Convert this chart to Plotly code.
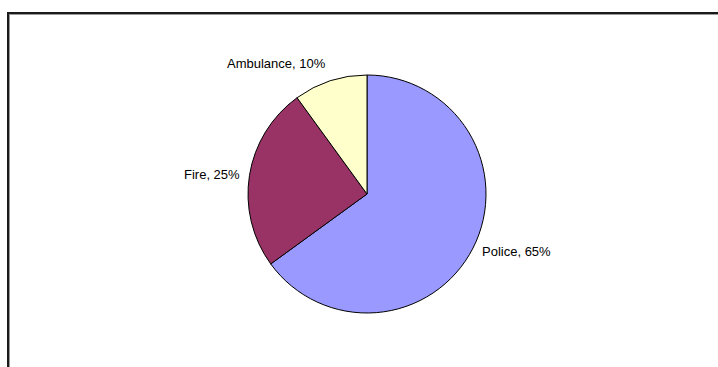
import math
import plotly.graph_objects as go

categories = ["Police", "Fire", "Ambulance"]
values = [65, 25, 10]
colors = ["#9999FF", "#993366", "#FFFFCC"]

W, H = 718, 367
cx, cy, r = 367, 194, 119
label_gap = 8
font = dict(family="Liberation Sans, Arial, sans-serif", size=13, color="#000000")

fig = go.Figure(go.Pie(
    labels=categories,
    values=values,
    sort=False,
    direction="clockwise",
    rotation=0,
    marker=dict(colors=colors, line=dict(color="#000000", width=1)),
    textinfo="none",
    showlegend=False,
    hoverinfo="label+percent",
    domain=dict(x=[(cx - r) / W, (cx + r) / W], y=[(H - cy - r) / H, (H - cy + r) / H]),
))

# Excel-style outside data labels "Category, NN%" placed from slice mid-angles
total = sum(values)
cum = 0
for cat, v in zip(categories, values):
    mid = (cum + v / 2) / total * 2 * math.pi
    cum += v
    dx, dy = math.sin(mid), -math.cos(mid)  # screen coords (y down)
    px = cx + (r + label_gap) * dx
    py = cy + (r + label_gap) * dy
    xanchor = "left" if dx > 0 else "right"
    if abs(dy) > abs(dx):
        yanchor = "bottom" if dy < 0 else "top"
    else:
        yanchor = "middle"
    pct = round(v / total * 100)
    fig.add_annotation(
        x=px / W, y=1 - py / H, xref="paper", yref="paper",
        text=f"{cat}, {pct}%", showarrow=False,
        xanchor=xanchor, yanchor=yanchor, font=font,
    )

# chart-area frame (partially cut off at right/bottom)
fig.add_shape(type="rect", xref="paper", yref="paper",
              x0=9 / W, x1=1.02, y0=-0.02, y1=1 - 14 / H,
              line=dict(color="#9a9a9a", width=2))
fig.add_shape(type="rect", xref="paper", yref="paper",
              x0=8 / W, x1=1.02, y0=-0.02, y1=1 - 13 / H,
              line=dict(color="#1a1a1a", width=2))

fig.update_layout(
    width=W, height=H,
    margin=dict(l=0, r=0, t=0, b=0),
    paper_bgcolor="#FFFFFF",
    plot_bgcolor="#FFFFFF",
)

fig.write_html("out.html")
